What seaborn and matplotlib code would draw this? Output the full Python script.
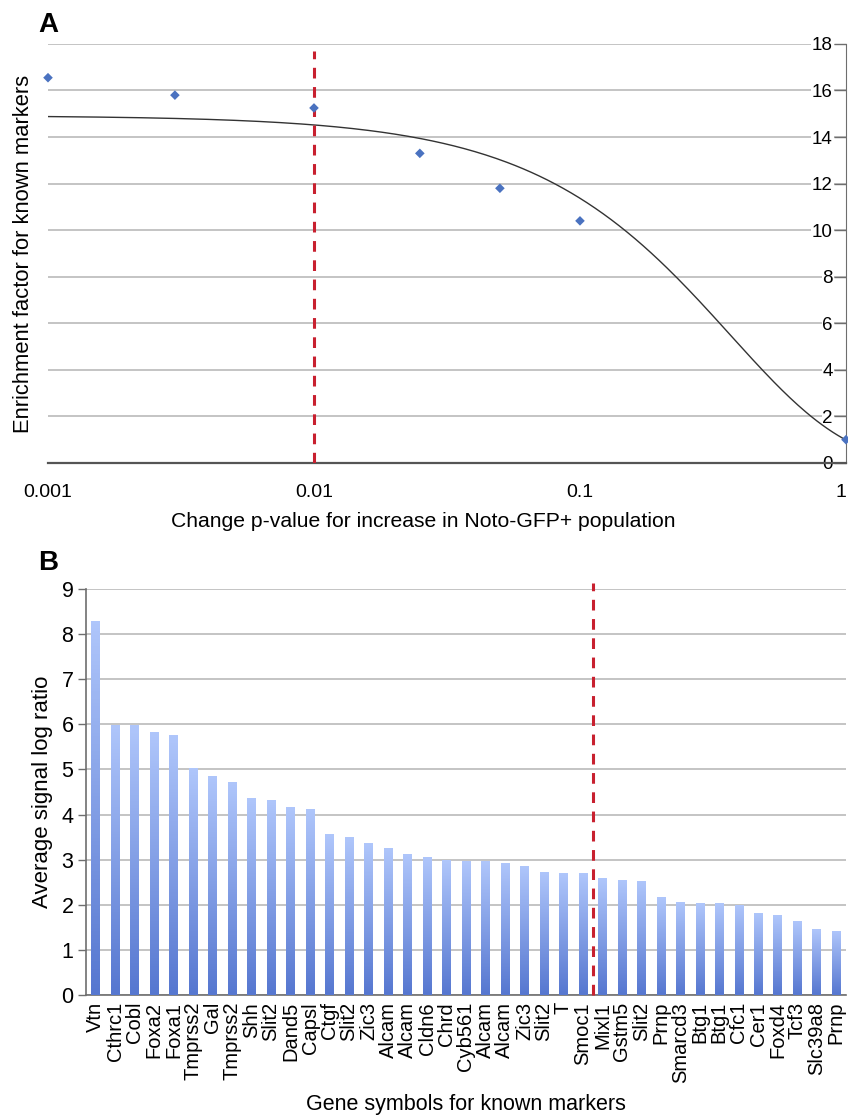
import numpy as np
import pandas as pd
import seaborn as sns
import matplotlib.pyplot as plt
from matplotlib.colors import LinearSegmentedColormap

# Panel A: enrichment factor vs p-value cutoff
p_values = [0.001, 0.003, 0.01, 0.025, 0.05, 0.1, 1.0]
enrichment = [16.55, 15.8, 15.25, 13.3, 11.8, 10.4, 1.0]
p_cutoff = 0.01

# Panel B: average signal log ratio of known markers
genes = ["Vtn", "Cthrc1", "Cobl", "Foxa2", "Foxa1", "Tmprss2", "Gal", "Tmprss2",
         "Shh", "Slit2", "Dand5", "Capsl", "Ctgf", "Slit2", "Zic3", "Alcam",
         "Alcam", "Cldn6", "Chrd", "Cyb561", "Alcam", "Alcam", "Zic3", "Slit2",
         "T", "Smoc1", "Mixl1", "Gstm5", "Slit2", "Prnp", "Smarcd3", "Btg1",
         "Btg1", "Cfc1", "Cer1", "Foxd4", "Tcf3", "Slc39a8", "Prnp"]
log_ratio = [8.29, 5.99, 5.98, 5.82, 5.76, 5.03, 4.86, 4.73,
             4.36, 4.33, 4.16, 4.13, 3.56, 3.50, 3.36, 3.26,
             3.13, 3.06, 2.99, 2.96, 2.96, 2.93, 2.86, 2.73,
             2.70, 2.70, 2.59, 2.56, 2.53, 2.17, 2.07, 2.03,
             2.03, 2.00, 1.82, 1.77, 1.63, 1.46, 1.43]
cutoff_after = "Smoc1"

sns.set_style("white")
plt.rcParams["font.family"] = ["Liberation Sans", "DejaVu Sans"]
plt.rcParams["text.color"] = "black"
plt.rcParams["axes.labelcolor"] = "black"
plt.rcParams["xtick.labelcolor"] = "black"
plt.rcParams["ytick.labelcolor"] = "black"

grid_col = "#b4b4b4"
axis_col = "#6e6e6e"
red = "#c8202f"

fig = plt.figure(figsize=(8.48, 11.18), dpi=100)

# ---------------- Panel A ----------------
ax1 = fig.add_axes([0.0566, 0.5859, 0.941, 0.3748])
df_a = pd.DataFrame({"p": p_values, "enrichment": enrichment})

# exponential trendline, fitted like a spreadsheet does (ln y linear in x)
b, ln_a = np.polyfit(df_a["p"], np.log(df_a["enrichment"]), 1)
x_fit = np.logspace(-3, 0, 300)
fit_df = pd.DataFrame({"p": x_fit, "fit": np.exp(ln_a) * np.exp(b * x_fit)})
sns.lineplot(data=fit_df, x="p", y="fit", color="#333333", lw=1.0, ax=ax1)

sns.scatterplot(data=df_a, x="p", y="enrichment", marker="D", s=24,
                color="#4a72c0", edgecolor="none", ax=ax1, zorder=4,
                clip_on=False)
ax1.vlines(p_cutoff, 0, 17.7, colors=red, linestyles=(0, (3.5, 2.8)), lw=2.2,
           zorder=3)

ax1.set_xscale("log")
ax1.set_xlim(0.001, 1)
ax1.set_ylim(0, 18)
ax1.set_yticks(range(0, 19, 2))
ax1.set_xticks([0.001, 0.01, 0.1, 1])
ax1.set_xticklabels(["0.001", "0.01", "0.1", "1"], fontsize=14)
ax1.get_xticklabels()[-1].set_horizontalalignment("right")
ax1.minorticks_off()
ax1.yaxis.set_ticks_position("right")
ax1.tick_params(axis="y", direction="in", length=9, width=1, color=axis_col,
                pad=-9.5, labelsize=13.5)
for t in ax1.get_yticklabels():
    t.set_horizontalalignment("right")
    t.set_bbox(dict(facecolor="white", edgecolor="none", pad=0.5))
ax1.tick_params(axis="x", direction="out", length=5, width=1, color=axis_col,
                pad=10)
ax1.grid(axis="y", color=grid_col, lw=1.1)
ax1.set_axisbelow(True)
for side in ["left", "top"]:
    ax1.spines[side].set_visible(False)
ax1.spines["right"].set_color(axis_col)
ax1.spines["bottom"].set_color("#555555")
ax1.spines["bottom"].set_linewidth(1.6)
ax1.set_xlabel("Change p-value for increase in Noto-GFP+ population",
               fontsize=15.2, labelpad=8)
ax1.xaxis.set_label_coords(0.47, -0.118)
ax1.set_ylabel("Enrichment factor for known markers", fontsize=15.8,
               labelpad=10)
ax1.yaxis.set_label_position("left")
fig.text(0.045, 0.9775, "A", fontsize=20, fontweight="bold", ha="left",
         va="center")

# ---------------- Panel B ----------------
ax2 = fig.add_axes([0.1014, 0.1100, 0.8962, 0.3632])
df_b = pd.DataFrame({"gene": range(len(genes)), "ratio": log_ratio})
sns.barplot(data=df_b, x="gene", y="ratio", color="#7f9de6", width=0.44,
            ax=ax2, zorder=2)

# vertical gradient: light at top, darker blue at bottom
grad = LinearSegmentedColormap.from_list("bar", ["#5677d0", "#afc6fb"])
for patch in ax2.patches:
    x0, y0 = patch.get_x(), patch.get_y()
    w, h = patch.get_width(), patch.get_height()
    img = ax2.imshow(np.linspace(0, 1, 100).reshape(-1, 1), cmap=grad,
                     origin="lower", extent=[x0, x0 + w, y0, y0 + h],
                     aspect="auto", zorder=3)
    img.set_clip_path(patch)
    patch.set_facecolor("none")
    patch.set_edgecolor("none")

cut_x = genes.index(cutoff_after) + 0.5
ax2.vlines(cut_x, 0, 9.13, colors=red, linestyles=(0, (3.5, 2.8)), lw=2.2,
           zorder=5, clip_on=False)

ax2.set_xlim(-0.5, len(genes) - 0.5)
ax2.set_ylim(0, 9)
ax2.set_yticks(range(0, 10))
ax2.set_xticks(range(len(genes)))
ax2.set_xticklabels(genes, rotation=90, fontsize=14.5)
ax2.set_xticks(np.arange(-0.5, len(genes), 1), minor=True)
ax2.tick_params(axis="x", which="major", length=0, pad=5)
ax2.tick_params(axis="x", which="minor", length=6, width=1, color=axis_col,
                direction="out")
ax2.tick_params(axis="y", length=6, width=1, color=axis_col, direction="out",
                labelsize=15.5, pad=3, left=True)
ax2.grid(axis="y", color=grid_col, lw=1.1)
ax2.set_axisbelow(True)
for side in ["right", "top"]:
    ax2.spines[side].set_visible(False)
for side in ["left", "bottom"]:
    ax2.spines[side].set_color(axis_col)
    ax2.spines[side].set_linewidth(1.2)
ax2.set_xlabel("Gene symbols for known markers", fontsize=15.5, labelpad=8)
ax2.set_ylabel("Average signal log ratio", fontsize=16, labelpad=6)
fig.text(0.045, 0.4965, "B", fontsize=20, fontweight="bold", ha="left",
         va="center")

fig.savefig("out.png", dpi=100)
